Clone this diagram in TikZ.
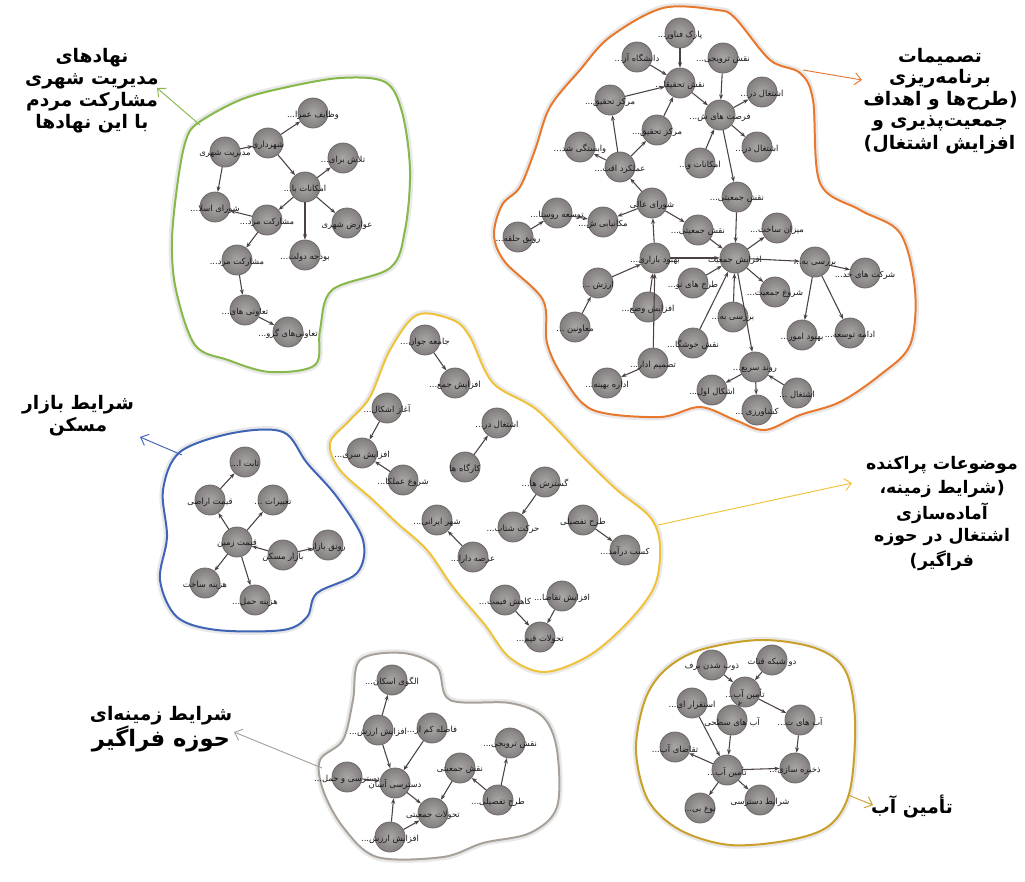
\documentclass[tikz,border=0pt]{standalone}
\usepackage{fontspec}
\usetikzlibrary{arrows.meta}
\newfontfamily\arabicfont[Script=Arabic]{DejaVu Sans}
\newfontfamily\dvs{DejaVu Sans}
\TeXXeTstate=1
\definecolor{cgreen}{HTML}{86B84A}
\definecolor{corange}{HTML}{E8782E}
\definecolor{cyellow}{HTML}{F0C238}
\definecolor{cblue}{HTML}{4064B5}
\definecolor{cgrey}{HTML}{A8A19A}
\definecolor{cgold}{HTML}{C9A02A}
\definecolor{nfill}{HTML}{8E8989}
\definecolor{nline}{HTML}{6F6A6A}
\definecolor{edgec}{HTML}{4A4242}
\tikzset{
 nd/.style={circle, draw=nline, line width=0.6pt, minimum size=22.5pt, inner sep=0pt,
   inner color=nfill!75!white, outer color=nfill!92!black},
 lbl/.style={font=\arabicfont\fontsize{6.3}{6.3}\selectfont, text=black!90, inner sep=0pt},
 ar/.style={draw=edgec, line width=0.8pt, -{Stealth[length=4pt,width=3pt]}},
 blob/.style={line width=1.5pt, fill=white, preaction={draw=black!9, line width=5pt}},
 ttl/.style={font=\arabicfont\bfseries\fontsize{14}{16.5}\selectfont, align=center, inner sep=0pt},
 ttly/.style={font=\arabicfont\bfseries\fontsize{13}{16.5}\selectfont, inner sep=0pt},
 ttlo/.style={font=\arabicfont\bfseries\fontsize{14}{16.5}\selectfont, inner sep=0pt},
 par/.style={font=\dvs\bfseries\fontsize{14}{16.5}\selectfont, inner sep=0pt},
 pary/.style={font=\dvs\bfseries\fontsize{13}{16}\selectfont, inner sep=0pt},
 tar/.style={line width=0.7pt, -{Straight Barb[length=5pt,width=9pt]}},
}
\newcommand\gnode[4]{\node[nd] (#1) at (#2,#3) {}; \node[lbl] (#1l) at (#2,#3+2) {#4};}
\begin{document}
\begin{tikzpicture}[x=0.75pt,y=-0.75pt]
\useasboundingbox (0,0) rectangle (1025,882);
\fill[white] (0,0) rectangle (1025,882);

% ---------- blobs ----------
\draw[blob, draw=cgreen] plot[smooth cycle, tension=0.55] coordinates {(198,123) (240,100) (283,88) (340,78) (385,82) (402,112) (410,170) (405,230) (390,268) (332,290) (320,330) (315,365) (270,372) (228,360) (195,345) (176,290) (172,240) (178,180) (186,140)};
\draw[blob, draw=corange] plot[smooth cycle, tension=0.55] coordinates {(663,8) (717,10) (735,18) (770,60) (800,73) (813,100) (820,183) (860,210) (900,233) (915,290) (910,345) (880,375) (840,402) (800,415) (765,430) (735,420) (700,407) (660,417) (593,410) (563,377) (547,343) (543,300) (505,262) (494,235) (502,205) (520,187) (535,150) (550,107) (580,70) (610,37)};
\draw[blob, draw=cyellow] plot[smooth cycle, tension=0.55] coordinates {(417,315) (453,320) (470,337) (493,383) (537,410) (583,457) (617,490) (650,517) (660,545) (655,585) (630,620) (590,655) (545,672) (510,658) (485,625) (453,587) (427,550) (397,523) (373,500) (340,470) (330,443) (350,420) (370,397) (390,350)};
\draw[blob, draw=cblue] plot[smooth cycle, tension=0.55] coordinates {(180,452) (233,433) (283,432) (307,463) (337,497) (363,540) (357,573) (317,593) (307,617) (283,630) (217,630) (177,617) (160,580) (167,537) (163,490)};
\draw[blob, draw=cgrey] plot[smooth cycle, tension=0.55] coordinates {(360,660) (403,653) (437,667) (450,700) (510,703) (543,717) (557,750) (557,807) (530,833) (483,843) (443,857) (377,857) (343,827) (323,790) (320,760) (343,740) (353,700)};
\draw[blob, draw=cgold] plot[smooth cycle, tension=0.55] coordinates {(700,650) (760,640) (815,648) (845,670) (855,720) (850,790) (830,825) (790,840) (730,845) (680,830) (648,800) (636,750) (645,700) (665,670)};

% ---------- green cluster ----------
\gnode{gA}{313}{113}{\beginR وظایف عمرا...\endR}
\gnode{gB}{225}{152}{\beginR مدیریت شهری\endR}
\gnode{gC}{268}{143}{\beginR شهرداری\endR}
\gnode{gD}{343}{158}{\beginR تلاش برای...\endR}
\gnode{gE}{305}{187}{\beginR امکانات با...\endR}
\gnode{gF}{215}{207}{\beginR شورای اسلا...\endR}
\gnode{gG}{267}{220}{\beginR مشارکت مرد...\endR}
\gnode{gH}{347}{223}{\beginR عوارض شهری\endR}
\gnode{gI}{305}{255}{\beginR بودجه دولت...\endR}
\gnode{gJ}{237}{260}{\beginR مشارکت مرد...\endR}
\gnode{gK}{245}{310}{\beginR تعاونی های...\endR}
\gnode{gL}{288}{332}{\beginR تعاونی‌های گرو...\endR}
\foreach \a/\b in {gB/gC, gC/gA, gC/gE, gE/gD, gE/gH, gE/gI, gE/gG, gG/gF, gB/gF, gG/gJ, gJ/gK, gK/gL}
  \draw[ar] (\a) -- (\b);

% ---------- orange cluster ----------
\gnode{o1}{680}{33}{\beginR پارک فناور...\endR}
\gnode{o2}{637}{57}{\beginR دانشگاه آز...\endR}
\gnode{o3}{723}{58}{\beginR نقش ترویجی...\endR}
\gnode{o4}{680}{83}{\beginR نقش تحقیقا...\endR}
\gnode{o5}{762}{92}{\beginR اشتغال در...\endR}
\gnode{o6}{610}{100}{\beginR مرکز تحقیق...\endR}
\gnode{o7}{720}{115}{\beginR فرصت های ش...\endR}
\gnode{o8}{657}{130}{\beginR مرکز تحقیق...\endR}
\gnode{o9}{580}{147}{\beginR وابستگی شد...\endR}
\gnode{o10}{757}{147}{\beginR اشتغال در...\endR}
\gnode{o11}{700}{163}{\beginR امکانات و...\endR}
\gnode{o12}{620}{167}{\beginR عملکرد اقت...\endR}
\gnode{o13}{737}{197}{\beginR نقش جمعیتی...\endR}
\gnode{o14}{652}{203}{\beginR شورای عالی\endR}
\gnode{o15}{557}{213}{\beginR توسعه روستا...\endR}
\gnode{o16}{603}{222}{\beginR مکانیابی ش...\endR}
\gnode{o17}{698}{230}{\beginR نقش جمعیتی...\endR}
\gnode{o18}{777}{228}{\beginR میزان ساخت...\endR}
\gnode{o19}{518}{237}{\beginR رونق حلقه...\endR}
\gnode{o20}{655}{258}{\beginR بهبود بازاری...\endR}
\gnode{o21}{735}{258}{\beginR افزایش جمعیت\endR}
\gnode{o22}{815}{262}{\beginR بررسی به...\endR}
\gnode{o23}{865}{273}{\beginR شرکت های خد...\endR}
\gnode{o24}{598}{283}{\beginR ارزش ...\endR}
\gnode{o25}{693}{283}{\beginR طرح های نو...\endR}
\gnode{o26}{775}{292}{\beginR شروع جمعیت...\endR}
\gnode{o27}{648}{307}{\beginR افزایش وضع...\endR}
\gnode{o28}{733}{317}{\beginR بررسی به...\endR}
\gnode{o29}{575}{327}{\beginR معاونین ...\endR}
\gnode{o30}{802}{335}{\beginR بهبود امور...\endR}
\gnode{o31}{850}{333}{\beginR ادامه توسعه...\endR}
\gnode{o32}{693}{343}{\beginR نقش خوشگا...\endR}
\gnode{o33}{653}{363}{\beginR تصمیم ادار...\endR}
\gnode{o34}{755}{367}{\beginR روند سریع...\endR}
\gnode{o35}{607}{383}{\beginR اداره بهینه...\endR}
\gnode{o36}{712}{390}{\beginR اشکال اول...\endR}
\gnode{o37}{797}{393}{\beginR اشتغال ...\endR}
\gnode{o38}{757}{410}{\beginR کشاورزی ...\endR}
\foreach \a/\b in {o1/o4, o2/o4, o6/o4, o8/o4, o4/o7, o3/o7, o7/o5, o7/o10, o11/o7, o7/o13, o12/o6, o12/o8, o12/o9, o14/o12, o14/o16, o15/o16, o19/o15, o14/o17, o20/o14, o13/o21, o17/o21, o20/o21, o21/o18, o21/o22, o22/o23, o25/o21, o21/o26, o28/o21, o32/o21, o21/o34, o24/o20, o29/o24, o27/o20, o33/o20, o33/o35, o22/o30, o22/o31, o34/o36, o37/o34, o34/o38}
  \draw[ar] (\a) -- (\b);

% ---------- yellow cluster ----------
\gnode{y1}{425}{340}{\beginR جامعه جوان...\endR}
\gnode{y2}{455}{383}{\beginR افزایش جمع...\endR}
\gnode{y3}{387}{408}{\beginR آغاز اشکال...\endR}
\gnode{y4}{497}{423}{\beginR اشتغال در...\endR}
\gnode{y5}{362}{453}{\beginR افزایش سری...\endR}
\gnode{y6}{465}{467}{\beginR کارگاه ها\endR}
\gnode{y7}{403}{480}{\beginR شروع عملکا...\endR}
\gnode{y8}{545}{482}{\beginR گسترش ها...\endR}
\gnode{y9}{437}{520}{\beginR شهر ایرانی...\endR}
\gnode{y10}{513}{527}{\beginR حرکت شتاب...\endR}
\gnode{y11}{583}{520}{\beginR طرح تفصیلی\endR}
\gnode{y12}{473}{557}{\beginR عرصه دارا...\endR}
\gnode{y13}{625}{550}{\beginR کسب درآمد...\endR}
\gnode{y14}{505}{600}{\beginR کاهش قیمت...\endR}
\gnode{y15}{562}{596}{\beginR افزایش تقاضا...\endR}
\gnode{y16}{540}{637}{\beginR تحولات قیم...\endR}
\foreach \a/\b in {y1/y2, y3/y5, y7/y5, y6/y4, y8/y10, y12/y9, y11/y13, y14/y16, y15/y16}
  \draw[ar] (\a) -- (\b);

% ---------- blue cluster ----------
\gnode{b1}{245}{462}{\beginR ثابت ا...\endR}
\gnode{b2}{210}{500}{\beginR قیمت اراضی\endR}
\gnode{b3}{273}{500}{\beginR تغییرات ...\endR}
\gnode{b4}{237}{542}{\beginR قیمت زمین\endR}
\gnode{b5}{283}{555}{\beginR بازار مسکن\endR}
\gnode{b6}{328}{545}{\beginR رونق بازار\endR}
\gnode{b7}{205}{583}{\beginR هزینه ساخت\endR}
\gnode{b8}{255}{600}{\beginR هزینه حمل...\endR}
\foreach \a/\b in {b2/b1, b4/b2, b4/b3, b5/b4, b5/b6, b4/b7, b4/b8}
  \draw[ar] (\a) -- (\b);

% ---------- grey cluster ----------
\gnode{g1}{392}{680}{\beginR الگوی اسکان...\endR}
\gnode{g2}{510}{743}{\beginR نقش ترویجی...\endR}
\gnode{g3}{378}{730}{\beginR افزایش ارزش...\endR}
\gnode{g4}{432}{728}{\beginR فاصله کم از...\endR}
\gnode{g5}{347}{777}{\beginR دسترسی و حمل...\endR}
\gnode{g6}{395}{783}{\beginR دسترسی آسان\endR}
\gnode{g7}{460}{768}{\beginR نقش جمعیتی\endR}
\gnode{g8}{498}{800}{\beginR طرح تفصیلی...\endR}
\gnode{g9}{433}{813}{\beginR تحولات جمعیتی\endR}
\gnode{g10}{390}{837}{\beginR افزایش ارزش...\endR}
\foreach \a/\b in {g3/g1, g3/g6, g4/g6, g5/g6, g6/g9, g10/g6, g10/g9, g7/g9, g8/g7, g8/g2}
  \draw[ar] (\a) -- (\b);

% ---------- gold cluster ----------
\gnode{w1}{712}{665}{\beginR ذوب شدن برف\endR}
\gnode{w2}{772}{660}{\beginR دو شبکه قنات\endR}
\gnode{w3}{745}{692}{\beginR تأمین آب...\endR}
\gnode{w4}{692}{703}{\beginR استقرار ای...\endR}
\gnode{w5}{732}{720}{\beginR آب های سطحی\endR}
\gnode{w6}{800}{720}{\beginR آب های ت...\endR}
\gnode{w7}{675}{747}{\beginR تقاضای آب...\endR}
\gnode{w8}{727}{770}{\beginR تأمین آب...\endR}
\gnode{w9}{795}{768}{\beginR ذخیره سازی...\endR}
\gnode{w10}{760}{800}{\beginR شرایط دسترسی\endR}
\gnode{w11}{700}{808}{\beginR نوع بی...\endR}
\foreach \a/\b in {w1/w3, w2/w3, w3/w5, w3/w6, w6/w9, w4/w8, w5/w8, w8/w7, w8/w9, w8/w10, w8/w11}
  \draw[ar] (\a) -- (\b);

% ---------- titles ----------
\node[ttl] (tg) at (92,91) {\beginR نهادهای\endR\\\beginR مدیریت شهری\endR\\\beginR مشارکت مردم\endR\\\beginR با این نهادها\endR};

\node[ttlo] (to1) at (940,57)  {\beginR تصمیمات\endR};
\node[ttlo] (to2) at (940,79)  {\beginR برنامه‌ریزی\endR};
\node[ttlo] (to3) at (936,101) {\beginR طرح‌ها و اهداف\endR};
\node[ttlo] (to4) at (940,123) {\beginR جمعیت‌پذیری و\endR};
\node[ttlo] (to5) at (944,145) {\beginR افزایش اشتغال\endR};
\node[par, anchor=base west] (to3p) at (to3.base east) {)};
\node[par, anchor=base east] (to5p) at (to5.base west) {(};

\node[ttl] (tb) at (78,416) {\beginR شرایط بازار\endR\\\beginR مسکن\endR};

\node[ttly] (ty1) at (942,465) {\beginR موضوعات پراکنده\endR};
\node[ttly] (ty2) at (938,489) {\beginR شرایط زمینه،\endR};
\node[ttly] (ty3) at (942,513) {\beginR آماده‌سازی\endR};
\node[ttly] (ty4) at (942,537) {\beginR اشتغال در حوزه\endR};
\node[ttly] (ty5) at (946,561) {\beginR فراگیر\endR};
\node[pary, anchor=base west] (ty2p) at (ty2.base east) {)};
\node[pary, anchor=base east] (ty5p) at (ty5.base west) {(};

\node[ttl] (tgr) at (161,729) {\beginR شرایط زمینه‌ای\endR\\{\fontsize{17}{19}\selectfont\beginR حوزه فراگیر\endR}};
\node[ttl] (tw) at (912,806) {\beginR تأمین آب\endR};

% ---------- title arrows ----------
\coordinate (ga1) at (200,125); \coordinate (ga2) at (157,88);
\coordinate (oa1) at (803,70);  \coordinate (oa2) at (862,80);
\coordinate (ba1) at (182,455); \coordinate (ba2) at (140,437);
\coordinate (ya1) at (658,525); \coordinate (ya2) at (852,483);
\coordinate (ra1) at (322,768); \coordinate (ra2) at (234,732);
\coordinate (wa1) at (848,795); \coordinate (wa2) at (873,805);
\draw[tar, cgreen] (ga1) -- (ga2);
\draw[tar, corange] (oa1) -- (oa2);
\draw[tar, cblue] (ba1) -- (ba2);
\draw[tar, cyellow] (ya1) -- (ya2);
\draw[tar, cgrey] (ra1) -- (ra2);
\draw[tar, cgold] (wa1) -- (wa2);
\end{tikzpicture}
\end{document}
